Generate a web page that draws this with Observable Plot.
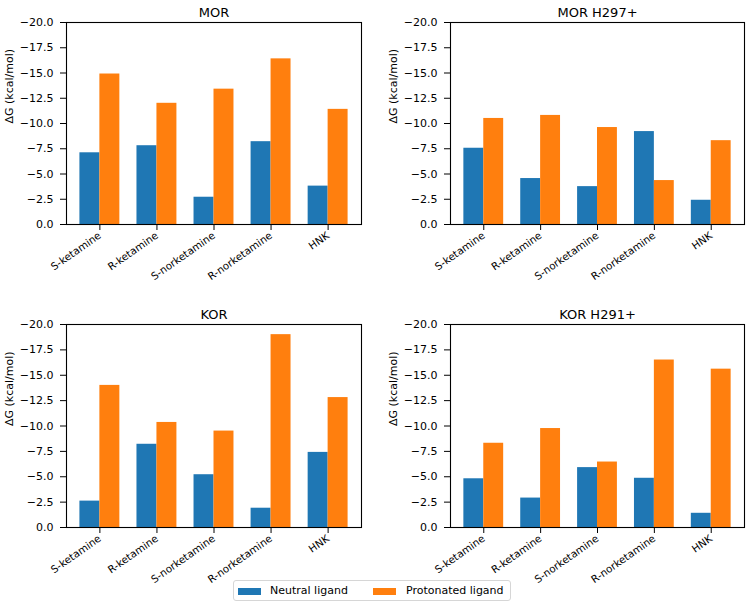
<!DOCTYPE html>
<html>
<head>
<meta charset="utf-8">
<script src="https://cdn.jsdelivr.net/npm/d3@7"></script>
<script src="https://cdn.jsdelivr.net/npm/@observablehq/plot@0.6"></script>
<style>
  html, body { margin: 0; padding: 0; background: #fff; }
  #chart { position: relative; width: 746px; height: 603px; font-family: "DejaVu Sans", sans-serif; overflow: hidden; }
  #chart svg { overflow: visible; position: absolute; }
  .legend { position: absolute; left: 233px; top: 580px; width: 278px; height: 21px; box-sizing: border-box;
    border: 1px solid #d6d6d6; border-radius: 3px; background: rgba(255,255,255,0.85);
    font-size: 11px; color: #000; }
  .legend .sw { position: absolute; top: 7px; width: 23px; height: 7px; }
  .legend .lb { position: absolute; top: 3px; white-space: nowrap; line-height: 13px; }
</style>
</head>
<body>
<div id="chart"></div>
<script>
const categories = ["S-ketamine", "R-ketamine", "S-norketamine", "R-norketamine", "HNK"];
const series = ["Neutral ligand", "Protonated ligand"];
const colors = ["#1f77b4", "#ff7f0e"];
const panelTitles = ["MOR", "MOR H297+", "KOR", "KOR H291+"];
const yLabel = "ΔG (kcal/mol)";
const yTicks = [0, -2.5, -5, -7.5, -10, -12.5, -15, -17.5, -20];

const morNeutral = [-7.1, -7.8, -2.7, -8.2, -3.8];
const morProtonated = [-14.9, -12.0, -13.4, -16.4, -11.4];
const morH297Neutral = [-7.55, -4.55, -3.75, -9.2, -2.4];
const morH297Protonated = [-10.5, -10.8, -9.6, -4.35, -8.3];
const korNeutral = [-2.6, -8.2, -5.2, -1.9, -7.4];
const korProtonated = [-14.0, -10.35, -9.5, -19.0, -12.8];
const korH291Neutral = [-4.8, -2.9, -5.9, -4.85, -1.4];
const korH291Protonated = [-8.3, -9.75, -6.45, -16.5, -15.6];

const panelValues = [
  [morNeutral, morProtonated],
  [morH297Neutral, morH297Protonated],
  [korNeutral, korProtonated],
  [korH291Neutral, korH291Protonated]
];

const layout = [
  {left: 0,   top: 0,   marginLeft: 66, marginRight: 12, marginTop: 22, marginBottom: 76},
  {left: 373, top: 0,   marginLeft: 77, marginRight: 2,  marginTop: 22, marginBottom: 76},
  {left: 0,   top: 300, marginLeft: 66, marginRight: 12, marginTop: 24, marginBottom: 73},
  {left: 373, top: 300, marginLeft: 77, marginRight: 2,  marginTop: 24, marginBottom: 73}
];

const chart = document.getElementById("chart");
const W = 373, H = 300;
const pInner = 0.3, pOuter = 0.235;
const fmt = d => (d < 0 ? "\u2212" : "") + Math.abs(d).toFixed(1);

panelTitles.forEach((title, i) => {
  const L = layout[i];
  const rows = [];
  series.forEach((s, si) => categories.forEach((c, ci) => rows.push({category: c, series: s, value: panelValues[i][si][ci]})));
  const plotW = W - L.marginLeft - L.marginRight;
  const step = plotW / (categories.length - pInner + 2 * pOuter);
  const bw = step * (1 - pInner);
  const svg = Plot.plot({
    width: W, height: H,
    marginLeft: L.marginLeft, marginRight: L.marginRight, marginTop: L.marginTop, marginBottom: L.marginBottom,
    style: {fontFamily: "DejaVu Sans, sans-serif", fontSize: "11px", background: "transparent", color: "#000", overflow: "visible"},
    x: {type: "band", domain: categories, paddingInner: pInner, paddingOuter: pOuter, round: false},
    y: {domain: [0, -20]},
    marks: [
      Plot.barY(rows.filter(d => d.series === series[0]), {x: "category", y: "value", fill: colors[0], insetLeft: 0, insetRight: bw / 2}),
      Plot.barY(rows.filter(d => d.series === series[1]), {x: "category", y: "value", fill: colors[1], insetLeft: bw / 2, insetRight: 0}),
      Plot.frame({stroke: "#000", strokeWidth: 1.1}),
      Plot.axisY({ticks: yTicks, tickFormat: fmt, tickSize: 6, tickPadding: 7, label: null}),
      Plot.axisX({tickRotate: -35, tickSize: 6, tickPadding: 4, label: null}),
      Plot.text([yLabel], {frameAnchor: "left", rotate: -90, dx: -57, fontSize: 11, fill: "#000"}),
      Plot.text([title], {frameAnchor: "top", dy: -15, fontSize: 13, fill: "#000"})
    ]
  });
  svg.querySelectorAll('[aria-label="x-axis tick label"]').forEach(g => { g.setAttribute("font-size", "10.3"); g.style.fontSize = "10.3px"; });
  svg.style.left = L.left + "px";
  svg.style.top = L.top + "px";
  chart.appendChild(svg);
});

// legend
const legend = document.createElement("div");
legend.className = "legend";
const swX = [4, 139], lbX = [36, 172];
series.forEach((s, i) => {
  const sw = document.createElement("div");
  sw.className = "sw"; sw.style.left = swX[i] + "px"; sw.style.background = colors[i];
  const lb = document.createElement("div");
  lb.className = "lb"; lb.style.left = lbX[i] + "px"; lb.textContent = s;
  legend.appendChild(sw); legend.appendChild(lb);
});
chart.appendChild(legend);
</script>
</body>
</html>
